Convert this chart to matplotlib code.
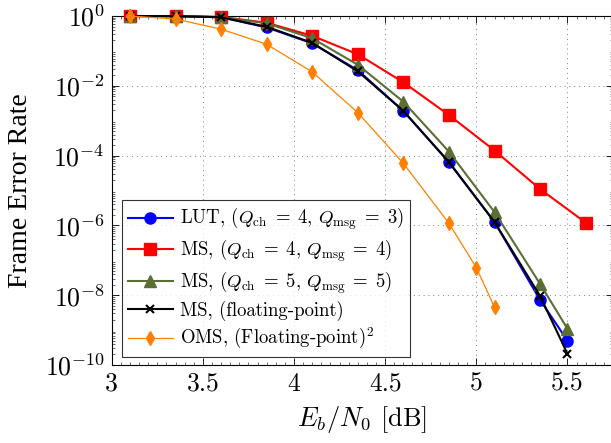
import matplotlib
matplotlib.use("Agg")
import matplotlib.pyplot as plt
from matplotlib.ticker import LogLocator, MultipleLocator, NullFormatter

plt.rcParams['font.family'] = 'serif'
plt.rcParams['font.serif'] = ['cmr10']
plt.rcParams['mathtext.fontset'] = 'cm'
plt.rcParams['axes.formatter.use_mathtext'] = True

ebn0 = [3.1, 3.35, 3.6, 3.85, 4.1, 4.35, 4.6, 4.85, 5.1, 5.35, 5.5]
ebn0_red = [3.1, 3.35, 3.6, 3.85, 4.1, 4.35, 4.6, 4.85, 5.1, 5.35, 5.6]
ebn0_oms = [3.1, 3.35, 3.6, 3.85, 4.1, 4.35, 4.6, 4.85, 5.0, 5.1]

fer_lut = [1.0, 0.99, 0.92, 0.47, 0.165, 0.028, 1.9e-3, 6.5e-5, 1.25e-6, 7.3e-9, 5e-10]
fer_ms44 = [1.0, 0.99, 0.94, 0.64, 0.27, 0.08, 0.0126, 1.45e-3, 1.4e-4, 1.1e-5, 1.2e-6]
fer_ms55 = [1.0, 0.99, 0.93, 0.62, 0.23, 0.04, 3.5e-3, 1.3e-4, 2.4e-6, 2.1e-8, 1.1e-9]
fer_msfp = [1.0, 0.99, 0.92, 0.49, 0.17, 0.026, 1.9e-3, 6.5e-5, 1.25e-6, 9.5e-9, 2.1e-10]
fer_oms = [1.0, 0.82, 0.42, 0.155, 0.025, 1.7e-3, 6e-5, 1.15e-6, 6.2e-8, 4.5e-9]

fig = plt.figure(figsize=(6.11, 4.43), dpi=100)
ax = fig.add_axes([111.7 / 611, 1 - 365 / 443, (613 - 111.7) / 611, (365 - 16) / 443])

ax.plot(ebn0, fer_lut, color='blue', lw=1.5, marker='o', ms=8,
        label=r'LUT, $(Q_\mathrm{ch}\;=\;4,\,Q_\mathrm{msg}\;=\;3)$', clip_on=False, zorder=3)
ax.plot(ebn0_red, fer_ms44, color='red', lw=1.5, marker='s', ms=8,
        label=r'MS, $(Q_\mathrm{ch}\;=\;4,\,Q_\mathrm{msg}\;=\;4)$', clip_on=False, zorder=3)
ax.plot(ebn0, fer_ms55, color='#5a6e35', lw=1.5, marker='^', ms=8,
        label=r'MS, $(Q_\mathrm{ch}\;=\;5,\,Q_\mathrm{msg}\;=\;5)$', clip_on=False, zorder=3)
ax.plot(ebn0, fer_msfp, color='black', lw=1.5, marker='x', ms=5.5, mew=1.5,
        label='MS, (floating-point)', clip_on=False, zorder=4)
ax.plot(ebn0_oms, fer_oms, color='#ff8000', lw=0.9, marker='d', ms=7,
        label=r'OMS, (Floating-point)$^2$', clip_on=False, zorder=4)

ax.set_yscale('log')
ax.set_xlim(3, 5.75)
ax.set_ylim(1e-10, 1)
ax.set_yticks([1e0, 1e-2, 1e-4, 1e-6, 1e-8, 1e-10])
ax.yaxis.set_minor_locator(LogLocator(base=10, subs=range(2, 10), numticks=20))
ax.yaxis.set_minor_formatter(NullFormatter())
ax.set_xticks([3, 3.5, 4, 4.5, 5, 5.5])
ax.set_xticklabels(['3', '3.5', '4', '4.5', '5', '5.5'])
ax.xaxis.set_minor_locator(MultipleLocator(0.05))
ax.tick_params(which='both', direction='in', top=True, right=True, labelsize=18.5)
ax.tick_params(which='major', length=5, width=0.6, pad=5)
ax.tick_params(which='minor', length=2.5, width=0.4)
ax.grid(True, which='major', linestyle=(0, (1, 4)), color='gray', lw=0.7)

ax.set_xlabel(r'$E_b/N_0$ [dB]', fontsize=19, labelpad=6)
ax.set_ylabel('Frame Error Rate', fontsize=20, family='Liberation Serif', labelpad=8)

leg = ax.legend(loc='lower left', bbox_to_anchor=(10.3 / 501, 8 / 349), borderaxespad=0,
                fontsize=13.5, frameon=True, fancybox=False, edgecolor='black',
                handlelength=2.4, handletextpad=0.4, borderpad=0.3, labelspacing=0.28)
leg.get_frame().set_linewidth(0.8)

fig.savefig('out.png', dpi=100)
